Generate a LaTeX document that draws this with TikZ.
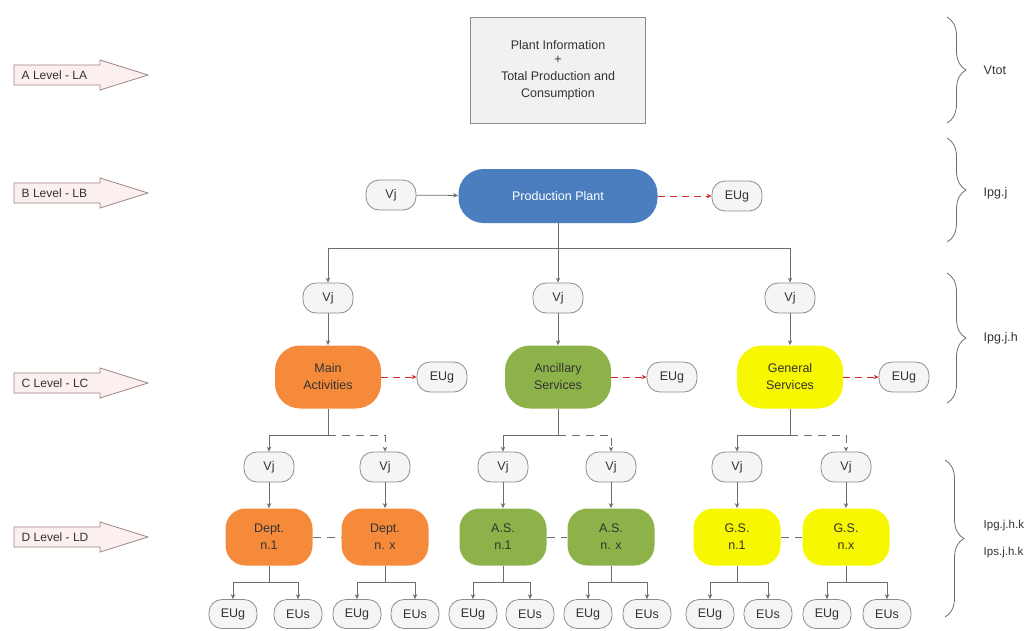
\documentclass[tikz,border=0pt]{standalone}
\usepackage{fontspec}
\setmainfont{Liberation Sans}
\usepackage{xcolor}
\usetikzlibrary{arrows.meta,decorations.pathreplacing}
\definecolor{linegray}{HTML}{6E6E6E}
\definecolor{boxedge}{HTML}{8C8C8C}
\definecolor{boxfill}{HTML}{F5F5F5}
\definecolor{infofill}{HTML}{F1F1F1}
\definecolor{textdark}{HTML}{333333}
\definecolor{plantblue}{HTML}{4A7EBF}
\definecolor{mainorange}{HTML}{F68A3B}
\definecolor{ancgreen}{HTML}{8DB24A}
\definecolor{genyellow}{HTML}{F7F700}
\definecolor{lossred}{HTML}{D42A2A}
\definecolor{levelfill}{HTML}{FCEFEF}
\definecolor{leveledge}{HTML}{A08484}
\tikzset{
  every node/.append style={font=\fontsize{12.5}{17}\selectfont,text=textdark},
  vjbox/.style={draw=boxedge,fill=boxfill,rounded corners=13pt,minimum width=50pt,minimum height=30pt,inner sep=1pt},
  eubox/.style={vjbox,minimum width=48pt,minimum height=29pt},
  unit/.style={rounded corners=25pt,minimum width=106pt,minimum height=63pt,align=center,inner sep=1pt},
  dept/.style={rounded corners=20pt,minimum width=87pt,minimum height=57pt,align=center,inner sep=1pt},
  conn/.style={draw=linegray,-{Stealth[length=5pt,width=4.5pt]}},
  loss/.style={draw=lossred,line width=1pt,dash pattern=on 7pt off 5pt,-{Stealth[length=5pt,width=4.5pt]}},
  bus/.style={draw=linegray},
  gap/.style={draw=linegray,dash pattern=on 8pt off 6pt},
  levelarrow/.style={draw=leveledge,fill=levelfill},
  bracemark/.style={draw=linegray,decorate,decoration={brace,amplitude=19pt}}
}
\begin{document}
\begin{tikzpicture}[x=1pt,y=-1pt,line width=0.8pt]
\useasboundingbox (0,0) rectangle (1035,630);
% level arrows on the left
\foreach \y/\t/\n in {75/A Level - LA/la,193/B Level - LB/lb,383/C Level - LC/lc,537/D Level - LD/ld}{
  \draw[levelarrow] (14,\y-10) -- (100,\y-10) -- (100,\y-15) -- (148,\y) -- (100,\y+15) -- (100,\y+10) -- (14,\y+10) -- cycle;
  \node[anchor=west,font=\fontsize{12}{14}\selectfont] (\n) at (18,\y) {\t};
}
% A level
\node[draw=boxedge,fill=infofill,minimum width=175pt,minimum height=106pt,align=center] (info) at (558,70) {Plant Information\\[-3pt]+\\Total Production and\\Consumption};
% B level
\node[unit,fill=plantblue,text=white,minimum width=199pt,minimum height=54pt] (pp) at (558,196) {Production Plant};
\node[vjbox] (vjb) at (391,195) {Vj};
\node[vjbox] (eub) at (737,196) {EUg};
\draw[conn] (vjb) -- (pp);
\draw[loss] (pp) -- (eub);
\coordinate (busp) at (558,248);
\draw[bus] (pp) -- (busp);
% C level
\foreach \n/\x/\f/\t in {ma/328/mainorange/{Main\\Activities},as/558/ancgreen/{Ancillary\\Services},gs/790/genyellow/{General\\Services}}{
  \node[vjbox] (vj\n) at (\x,298) {Vj};
  \node[unit,fill=\f] (\n) at (\x,377) {\t};
  \node[vjbox] (eu\n) at (\x+114,377) {EUg};
  \draw[conn] (busp) -| (vj\n);
  \draw[conn] (vj\n) -- (\n);
  \draw[loss] (\n) -- (eu\n);
}
% D level
\foreach \n/\x/\f/\t/\g/\s in {d1/269/mainorange/{Dept.\\n.1}/233/298,d2/385/mainorange/{Dept.\\n. x}/357/415,a1/503/ancgreen/{A.S.\\n.1}/473/530,a2/611/ancgreen/{A.S.\\n. x}/588/647,g1/737/genyellow/{G.S.\\n.1}/710/768,g2/846/genyellow/{G.S.\\n.x}/827/887}{
  \node[vjbox] (vj\n) at (\x,467) {Vj};
  \node[dept,fill=\f] (\n) at (\x,537) {\t};
  \node[eubox] (eug\n) at (\g,614) {EUg};
  \node[eubox] (eus\n) at (\s,614) {EUs};
  \coordinate (bus\n) at (\x,582);
  \draw[conn] (vj\n) -- (\n);
  \draw[bus] (\n) -- (bus\n);
  \draw[conn] (bus\n) -| (eug\n);
  \draw[conn] (bus\n) -| (eus\n);
}
\foreach \c/\l/\r in {ma/d1/d2,as/a1/a2,gs/g1/g2}{
  \coordinate (bus\c) at (\c.south |- 0,435);
  \draw[bus] (\c) -- (bus\c);
  \draw[conn] (bus\c) -| (vj\l);
  \draw[conn,dash pattern=on 8pt off 6pt] (bus\c) -| (vj\r);
  \draw[gap] (\l) -- (\r);
}
% braces on the right
\draw[bracemark] (947,17) -- (947,123);
\node[anchor=west] (vtot) at (980,70) {Vtot};
\draw[bracemark] (947,138) -- (947,242);
\node[anchor=west] (ipgj) at (980,193) {Ipg.j};
\draw[bracemark] (947,273) -- (947,403);
\node[anchor=west] (ipgjh) at (980,338) {Ipg.j.h};
\draw[bracemark] (945,460) -- (945,617);
\node[anchor=west,font=\fontsize{11.5}{14}\selectfont] (ipgjhk) at (980,526) {Ipg.j.h.k};
\node[anchor=west,font=\fontsize{11.5}{14}\selectfont] (ipsjhk) at (980,553) {Ips.j.h.k};
\end{tikzpicture}
\end{document}
